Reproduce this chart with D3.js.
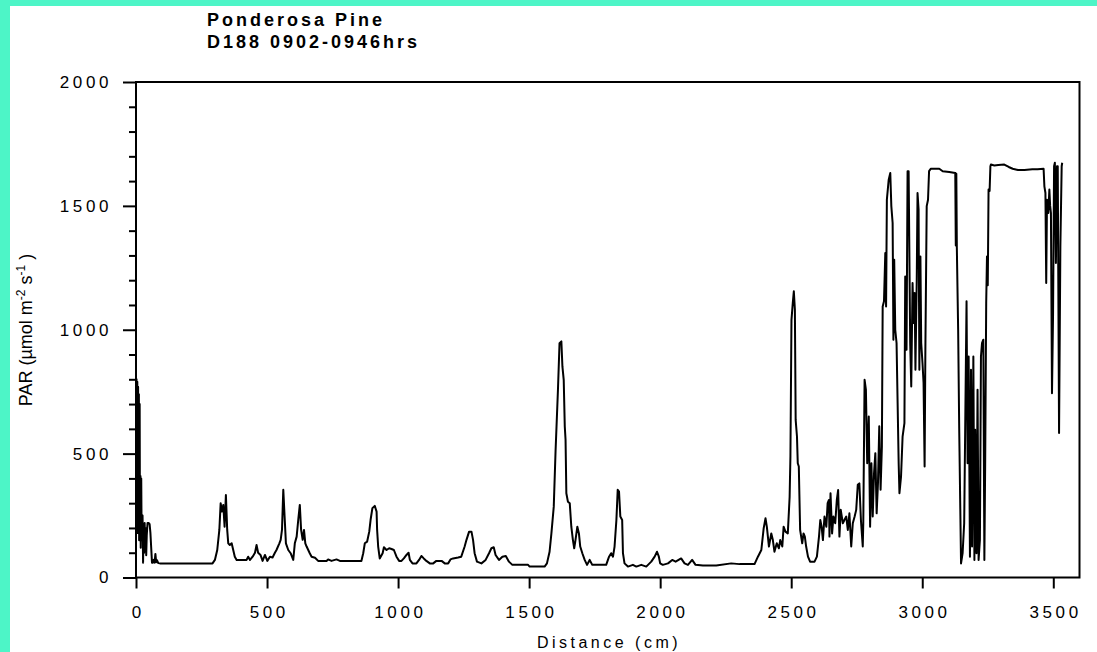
<!DOCTYPE html>
<html>
<head>
<meta charset="utf-8">
<script src="https://cdn.jsdelivr.net/npm/d3@7/dist/d3.min.js"></script>
<style>
	body { margin: 0; background: #fff; overflow: hidden; }
	text { font-family: "Liberation Sans", Arial, sans-serif; fill: #000; }
</style>
</head>
<body>
<div id="chart"></div>
<script>
// distance along the transect (cm)
var dist = [
	0,2,3,5,6,8,9,11,12,14,15,17,18,20,21,23,25,27,29,31,33,35,37,39,41,44,48,52,55,58,61,64,68,71,74,77,80,85,91,
	292,301,310,318,323,328,333,338,343,348,352,358,365,371,377,384,422,428,435,445,454,460,466,475,483,492,501,511,521,530,536,547,552,557,562,567,572,581,590,600,606,613,619,625,630,636,641,646,651,663,670,683,695,727,733,746,765,778,860,867,873,882,890,895,902,911,918,920,924,930,941,946,956,966,975,984,994,1004,1013,1022,1032,1040,1045,1055,1070,1080,1089,1098,1108,1121,1134,1146,1166,1178,1191,1200,1210,1229,
	1241,1254,1261,1271,1280,1286,1292,1301,1318,1334,1347,1356,1365,1372,1385,1398,1411,1423,1436,1496,1502,1559,1568,1578,1585,1594,1601,1610,1616,1623,1627,1632,1636,1639,1642,1648,1655,1661,1667,1672,1677,1684,1690,1695,1703,1712,1721,1731,1741,1794,1805,1813,1820,1826,1833,1838,1843,1848,1855,1858,1864,1877,1896,1909,1928,1947,1966,1979,1988,1995,2000,2010,2030,2046,2059,2080,2093,2106,2122,2135,2163,2214,2271,2303,2360,
	2373,2386,2395,2402,2407,2415,2424,2430,2436,2445,2453,2458,2466,2471,2478,2487,2494,2497,2501,2506,2510,2514,2517,2522,2525,2529,2534,2542,2547,2552,2557,2564,2572,2589,2598,2606,2611,2616,2621,2627,2634,2639,2644,2646,2650,2656,2661,2668,2674,2679,2684,2689,2697,2703,2710,2716,2722,2729,2735,2742,2748,2754,
	2760,2766,2773,2775,2780,2785,2790,2796,2801,2806,2811,2816,2821,2826,2831,2836,2841,2846,2849,2854,2859,2862,2865,2872,2878,2882,2887,2890,2893,2897,2902,2906,2910,2913,2919,2925,2932,2935,2940,2944,2948,2951,2954,2958,2963,2967,2971,2974,2979,2982,2986,2989,2993,2996,3001,3005,3009,3012,3017,3022,3026,3033,3065,3078,3103,3126,3128,3130,3132,3137,3141,3148,3154,3160,3169,3173,3177,3182,3186,3190,3195,3199,3202,3207,3211,3215,3220,3224,3228,3233,3237,
	3240,3244,3247,3250,3253,3257,3260,3262,3275,3290,3313,3330,3345,3365,3390,3420,3440,3463,3466,3470,3473,3476,3481,3485,3488,3491,3495,3499,3503,3506,3510,3514,3517,3522,3527,3532,3534
];

// PAR readings (umol m-2 s-1)
var par = [
	150,800,300,790,180,770,260,740,150,700,220,410,120,400,240,150,250,60,210,100,220,130,200,90,170,220,220,215,180,120,60,60,72,60,95,62,70,58,57,
	57,71,111,192,300,266,293,205,333,192,138,131,138,111,84,71,71,84,71,84,100,131,100,91,67,91,67,84,81,100,111,138,152,192,354,246,138,111,98,71,138,165,232,293,192,152,192,138,125,98,84,80,67,67,73,67,73,67,67,98,138,145,185,232,280,289,266,192,125,77,98,122,111,118,115,111,84,67,67,77,91,100,71,57,57,71,87,77,67,57,57,67,67,57,57,73,77,81,
	84,125,152,185,185,152,98,64,57,71,98,118,122,91,71,84,87,64,51,51,44,44,57,104,178,286,515,758,946,953,852,798,610,556,340,306,300,205,152,118,152,205,178,125,98,71,51,71,51,51,84,98,84,125,232,354,347,246,232,98,57,44,51,44,51,44,64,84,104,84,57,51,57,71,64,77,57,51,71,51,48,48,57,54,54,
	84,111,199,239,205,125,178,151,104,138,118,151,125,205,185,178,326,488,1040,1108,1155,1081,636,569,461,448,192,138,178,165,125,84,64,64,84,165,232,205,151,246,205,300,313,165,340,178,246,219,313,353,165,273,219,232,246,192,259,125,219,246,273,374,
	380,232,125,219,798,758,461,650,205,461,246,421,502,259,380,610,354,529,1094,1115,1310,1094,1525,1606,1633,1499,1431,960,1283,1000,946,704,461,340,407,569,623,1215,919,1640,1640,1296,946,771,1189,1027,1148,839,1202,1552,1485,839,1296,946,865,785,448,933,1499,1525,1640,1650,1650,1640,1637,1633,1340,1630,1330,1000,600,57,98,219,1115,461,892,84,839,125,892,71,596,98,758,71,152,892,946,960,71,
	448,1108,1296,1180,1566,1560,1660,1667,1663,1665,1667,1657,1650,1645,1645,1648,1648,1650,1579,1552,1189,1525,1471,1566,1500,1471,744,1054,1660,1674,1269,1660,1660,583,1337,1660,1674
];

var xTicks = [0, 500, 1000, 1500, 2000, 2500, 3000, 3500];
var yTicks = [0, 500, 1000, 1500, 2000];
var yMinorTicks = [100, 200, 300, 400, 600, 700, 800, 900, 1100, 1200, 1300, 1400, 1600, 1700, 1800, 1900];
var titleLines = ["Ponderosa Pine", "D188 0902-0946hrs"];

function init(){
	var w = 1097;
	var h = 652;

	var svg = d3.select("#chart")
				.append("svg")
				.attr("width", w)
				.attr("height", h)
				.style("display", "block");

	svg.append("rect")
		.attr("width", w)
		.attr("height", h)
		.attr("fill", "#fff");

	//green edge at top and left
	svg.append("rect").attr("x", 0).attr("y", 0).attr("width", w).attr("height", 6).attr("fill", "#4df5c7");
	svg.append("rect").attr("x", 0).attr("y", 0).attr("width", 10).attr("height", h).attr("fill", "#4df5c7");

	var x = d3.scaleLinear()
				.domain([0, 3600])
				.range([136, 1079.5]);

	var y = d3.scaleLinear()
				.domain([0, 2000])
				.range([577.5, 82]);

	var fmt = d3.format("d");

	//minor ticks on y
	svg.append("g")
		.attr("transform", "translate(136,0)")
		.call(d3.axisLeft(y).tickValues(yMinorTicks).tickSize(7).tickSizeOuter(0).tickFormat(""))
		.call(function(g){ g.select(".domain").remove(); });

	//major ticks on y
	var yAxis = svg.append("g")
		.attr("transform", "translate(136,0)")
		.call(d3.axisLeft(y).tickValues(yTicks).tickSize(13).tickSizeOuter(0).tickPadding(11).tickFormat(fmt));
	yAxis.select(".domain").remove();

	var xAxis = svg.append("g")
		.attr("transform", "translate(0,577.5)")
		.call(d3.axisBottom(x).tickValues(xTicks).tickSize(11).tickSizeOuter(0).tickFormat(fmt));
	xAxis.select(".domain").remove();

	svg.selectAll(".tick line")
		.attr("stroke", "#000")
		.attr("stroke-width", 2);

	yAxis.selectAll("text")
		.style("font-size", "17px")
		.style("letter-spacing", "3.6px")
		.attr("font-family", null);

	xAxis.selectAll("text")
		.attr("y", 40)
		.attr("dy", null)
		.attr("dx", "1.8")
		.style("font-size", "17px")
		.style("letter-spacing", "3.6px")
		.attr("font-family", null);

	//frame
	svg.append("rect")
		.attr("x", 136)
		.attr("y", 82)
		.attr("width", x(3600) - 136)
		.attr("height", y(0) - 82)
		.attr("fill", "none")
		.attr("stroke", "#000")
		.attr("stroke-width", 2);

	var line = d3.line()
				.x(function(d, i){ return x(dist[i]); })
				.y(function(d){ return y(d); });

	svg.append("path")
		.datum(par)
		.attr("d", line)
		.attr("fill", "none")
		.attr("stroke", "#000")
		.attr("stroke-width", 2)
		.attr("stroke-linejoin", "round");

	//title
	svg.selectAll(".title")
		.data(titleLines)
		.enter()
		.append("text")
		.attr("class", "title")
		.attr("x", 207)
		.attr("y", function(d, i){ return 26 + i * 21.7; })
		.style("font-size", "18px")
		.style("font-weight", "bold")
		.style("letter-spacing", "3px")
		.text(function(d){ return d; });

	//x label
	svg.append("text")
		.attr("x", 609)
		.attr("y", 648)
		.attr("text-anchor", "middle")
		.style("font-size", "16px")
		.style("letter-spacing", "3.5px")
		.text("Distance (cm)");

	//y label with superscripts
	var yl = svg.append("text")
		.attr("transform", "translate(32,330) rotate(-90)")
		.attr("text-anchor", "middle")
		.style("font-size", "18px");
	yl.append("tspan").text("PAR (\u00b5mol m");
	yl.append("tspan").attr("dy", -7).style("font-size", "12px").text("-2");
	yl.append("tspan").attr("dy", 7).text(" s");
	yl.append("tspan").attr("dy", -7).style("font-size", "12px").text("-1");
	yl.append("tspan").attr("dy", 7).text(" )");
}

window.onload = init;
</script>
</body>
</html>
